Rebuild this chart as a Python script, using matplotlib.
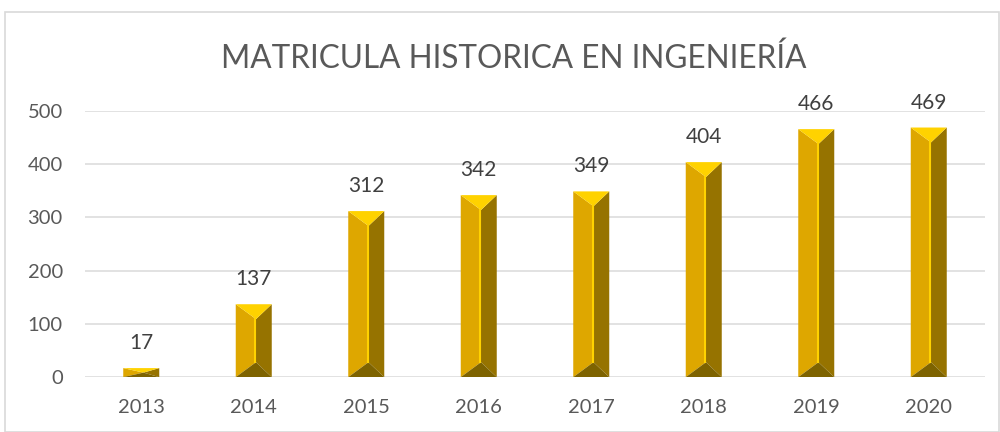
import matplotlib.pyplot as plt
from matplotlib.patches import Polygon, Rectangle

plt.rcParams['font.family'] = ['Lato', 'DejaVu Sans']

# data
years = ["2013", "2014", "2015", "2016", "2017", "2018", "2019", "2020"]
matricula = [17, 137, 312, 342, 349, 404, 466, 469]

txt = "#595959"
c_left = "#DEA700"
c_right = "#967300"
c_top = "#FFD200"
c_bot = "#7E6300"

fig = plt.figure(figsize=(10, 4.32), dpi=100)
ax = fig.add_axes([0.085, 0.127, 0.90, 0.616])

width = 0.32
depth = 28  # bevel depth in data units
for i, v in enumerate(matricula):
    l, r, c = i - width / 2, i + width / 2, i + 0.02
    d = min(depth, v / 2)
    ax.add_patch(Polygon([(l, 0), (l, v), (c, v - d), (c, d)], closed=True,
                         facecolor=c_left, edgecolor="none", zorder=3))
    ax.add_patch(Polygon([(r, 0), (r, v), (c, v - d), (c, d)], closed=True,
                         facecolor=c_right, edgecolor="none", zorder=3))
    ax.add_patch(Polygon([(l, v), (r, v), (c, v - d)], closed=True,
                         facecolor=c_top, edgecolor="none", zorder=3))
    ax.add_patch(Polygon([(l, 0), (r, 0), (c, d)], closed=True,
                         facecolor=c_bot, edgecolor="none", zorder=3))
    if v - 2 * d > 0:
        ax.plot([c - 0.008, c - 0.008], [d, v - d], color=c_top, lw=1.5, zorder=4)
    ax.text(i, v + 28, str(v), ha="center", va="bottom", fontsize=15,
            color="#404040", clip_on=False)

ax.set_xlim(-0.5, len(years) - 0.5)
ax.set_ylim(0, 500)
ax.set_xticks(range(len(years)))
ax.set_xticklabels(years)
ax.set_yticks([0, 100, 200, 300, 400, 500])
ax.tick_params(length=0, labelsize=14.5, colors=txt)
ax.tick_params(axis="x", pad=16)
ax.tick_params(axis="y", pad=16)
ax.grid(axis="y", color="#DDDDDD", lw=1.2, zorder=0)
ax.set_axisbelow(True)
for s in ax.spines.values():
    s.set_visible(False)

fig.text(0.514, 0.865, "MATRICULA HISTORICA EN INGENIERÍA", ha="center", va="center",
         fontsize=22.7, color=txt)

fig.patches.append(Rectangle((0.005, 0.0), 0.994, 0.973, transform=fig.transFigure,
                             fill=False, edgecolor="#D9D9D9", lw=1.2))

fig.savefig("out.png", dpi=100)
